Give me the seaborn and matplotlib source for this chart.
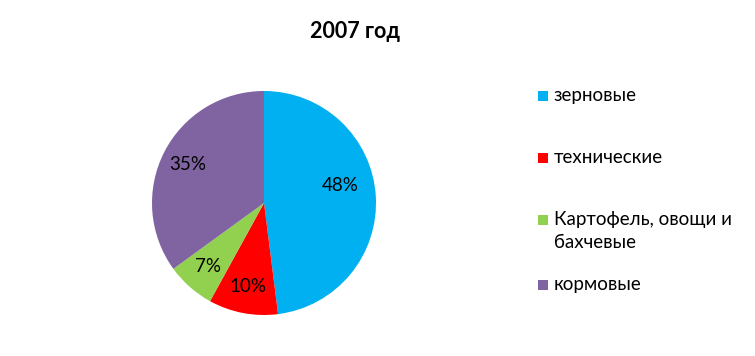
import matplotlib
matplotlib.use('Agg')
import matplotlib.pyplot as plt
from matplotlib.patches import Rectangle
import seaborn as sns

# data
categories = ['зерновые', 'технические', 'Картофель, овощи и\nбахчевые', 'кормовые']
shares = [48, 10, 7, 35]
colors = ['#00B0F0', '#FF0000', '#92D050', '#8064A2']
title = '2007 год'

sns.set_theme(style='white')
plt.rcParams['font.family'] = ['Lato', 'DejaVu Sans']

W, H = 755, 356
fig = plt.figure(figsize=(W / 100, H / 100), dpi=100)
fig.patch.set_facecolor('white')

# pie centre (264, 203), radius 112 px
cx, cy, r = 264, 203, 112
ax = fig.add_axes([(cx - r) / W, (H - cy - r) / H, 2 * r / W, 2 * r / H])
wedges, texts, autotexts = ax.pie(shares, colors=colors, startangle=90,
                                  counterclock=False, radius=1,
                                  autopct='%1.0f%%', pctdistance=0.76,
                                  textprops={'fontsize': 13.5, 'color': 'black'},
                                  wedgeprops={'linewidth': 0})
ax.set_xlim(-1, 1)
ax.set_ylim(-1, 1)
ax.axis('off')
# Excel put the big slice label a bit higher
autotexts[0].set_position((0.68, 0.16))

fig.text(355 / W, 1 - 31 / H, title, ha='center', va='center',
         fontsize=15.5, fontweight='bold', color='black')

# legend, drawn by hand
leg_y = [96, 158, 220, 285]
for lab, col, y in zip(categories, colors, leg_y):
    fig.patches.append(Rectangle((538 / W, 1 - (y + 5) / H), 10 / W, 10 / H,
                                 transform=fig.transFigure, facecolor=col,
                                 edgecolor='none'))
    fig.text(554 / W, 1 - (y - 9) / H, lab, ha='left', va='top',
             fontsize=13.5, color='black', linespacing=1.45)

fig.savefig('out.png', dpi=100, facecolor='white')
